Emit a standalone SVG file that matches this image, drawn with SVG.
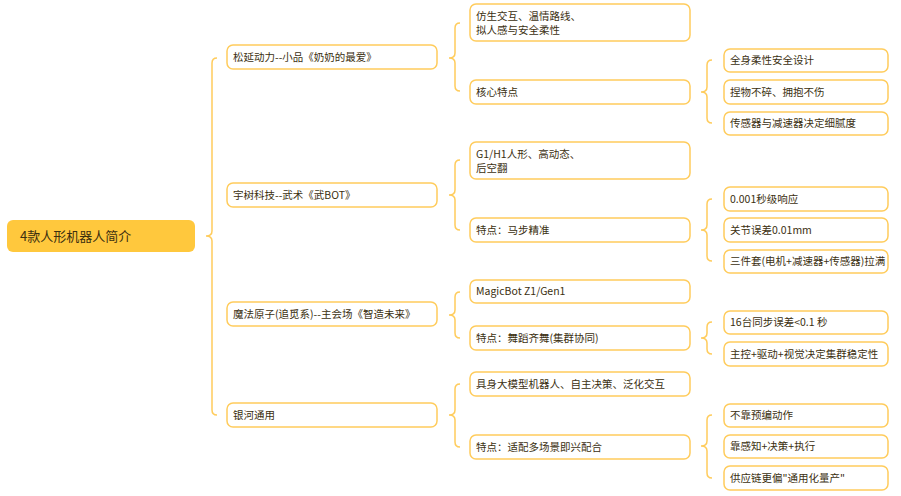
<svg xmlns="http://www.w3.org/2000/svg" width="901" height="496" viewBox="0 0 901 496">
<style>
.n{fill:#fff;stroke:#FFCC5C;stroke-width:1.5}
.t{font-family:"Noto Sans CJK SC","Noto Sans",sans-serif;font-size:10.5px;fill:#3b2f10}
.c{fill:none;stroke:#FFCC5C;stroke-width:1.5}
</style>
<rect width="901" height="496" fill="#fff"/>
<g id="connectors">
<path class="c" d="M217,58 Q212,58 212,63 L212,231 Q212,236 206,236 Q212,236 212,241 L212,410 Q212,415 217,415"/>
<path class="c" d="M460,23 Q455,23 455,28 L455,53 Q455,58 449,58 Q455,58 455,63 L455,86 Q455,91 460,91"/>
<path class="c" d="M460,160 Q455,160 455,165 L455,190 Q455,195 449,195 Q455,195 455,200 L455,225 Q455,230 460,230"/>
<path class="c" d="M460,292 Q455,292 455,297 L455,310 Q455,315 449,315 Q455,315 455,320 L455,333 Q455,338 460,338"/>
<path class="c" d="M460,384 Q455,384 455,389 L455,410 Q455,415 449,415 Q455,415 455,420 L455,442 Q455,447 460,447"/>
<path class="c" d="M712,60 Q707,60 707,65 L707,87 Q707,92 701,92 Q707,92 707,97 L707,118 Q707,123 712,123"/>
<path class="c" d="M712,199 Q707,199 707,204 L707,225 Q707,230 701,230 Q707,230 707,235 L707,256 Q707,261 712,261"/>
<path class="c" d="M712,322 Q707,322 707,327 L707,333 Q707,338 701,338 Q707,338 707,343 L707,349 Q707,354 712,354"/>
<path class="c" d="M712,415 Q707,415 707,420 L707,441 Q707,446 701,446 Q707,446 707,451 L707,473 Q707,478 712,478"/>
</g>
<g id="root"><rect x="7" y="220" width="188" height="32" rx="6" fill="#FFC83D"/><text x="20" y="241" class="t" style="font-size:13px">4款人形机器人简介</text></g>
<g id="a"><rect class="n" x="227" y="45" width="210" height="24" rx="6"/><text class="t" x="233" y="61">松延动力--小品《奶奶的最爱》</text></g>
<g id="b"><rect class="n" x="227" y="183" width="210" height="24" rx="6"/><text class="t" x="233" y="199">宇树科技--武术《武BOT》</text></g>
<g id="c"><rect class="n" x="227" y="302" width="210" height="24" rx="6"/><text class="t" x="233" y="318">魔法原子(追觅系)--主会场《智造未来》</text></g>
<g id="d"><rect class="n" x="227" y="403" width="210" height="24" rx="6"/><text class="t" x="233" y="419">银河通用</text></g>
<g id="a1"><rect class="n" x="470" y="4" width="220" height="37" rx="6"/><text class="t" x="476" y="20">仿生交互、温情路线、</text><text class="t" x="476" y="34">拟人感与安全柔性</text></g>
<g id="a2"><rect class="n" x="470" y="80" width="220" height="24" rx="6"/><text class="t" x="476" y="96">核心特点</text></g>
<g id="b1"><rect class="n" x="470" y="142" width="220" height="37" rx="6"/><text class="t" x="476" y="158">G1/H1人形、高动态、</text><text class="t" x="476" y="172">后空翻</text></g>
<g id="b2"><rect class="n" x="470" y="218" width="220" height="24" rx="6"/><text class="t" x="476" y="234">特点：马步精准</text></g>
<g id="c1"><rect class="n" x="470" y="280" width="220" height="23" rx="6"/><text class="t" x="476" y="295">MagicBot Z1/Gen1</text></g>
<g id="c2"><rect class="n" x="470" y="326" width="220" height="24" rx="6"/><text class="t" x="476" y="342">特点：舞蹈齐舞(集群协同)</text></g>
<g id="d1"><rect class="n" x="470" y="372" width="220" height="24" rx="6"/><text class="t" x="476" y="388">具身大模型机器人、自主决策、泛化交互</text></g>
<g id="d2"><rect class="n" x="470" y="435" width="220" height="24" rx="6"/><text class="t" x="476" y="451">特点：适配多场景即兴配合</text></g>
<g id="a2a"><rect class="n" x="724" y="49" width="164" height="23" rx="6"/><text class="t" x="730" y="64">全身柔性安全设计</text></g>
<g id="a2b"><rect class="n" x="724" y="80" width="164" height="24" rx="6"/><text class="t" x="730" y="96">捏物不碎、拥抱不伤</text></g>
<g id="a2c"><rect class="n" x="724" y="112" width="164" height="23" rx="6"/><text class="t" x="730" y="127">传感器与减速器决定细腻度</text></g>
<g id="b2a"><rect class="n" x="724" y="187" width="164" height="24" rx="6"/><text class="t" x="730" y="203">0.001秒级响应</text></g>
<g id="b2b"><rect class="n" x="724" y="218" width="164" height="24" rx="6"/><text class="t" x="730" y="234">关节误差0.01mm</text></g>
<g id="b2c"><rect class="n" x="724" y="250" width="164" height="23" rx="6"/><text class="t" x="730" y="265">三件套(电机+减速器+传感器)拉满</text></g>
<g id="c2a"><rect class="n" x="724" y="311" width="164" height="23" rx="6"/><text class="t" x="730" y="326">16台同步误差&lt;0.1 秒</text></g>
<g id="c2b"><rect class="n" x="724" y="342" width="164" height="24" rx="6"/><text class="t" x="730" y="358">主控+驱动+视觉决定集群稳定性</text></g>
<g id="d2a"><rect class="n" x="724" y="404" width="164" height="23" rx="6"/><text class="t" x="730" y="419">不靠预编动作</text></g>
<g id="d2b"><rect class="n" x="724" y="435" width="164" height="23" rx="6"/><text class="t" x="730" y="450">靠感知+决策+执行</text></g>
<g id="d2c"><rect class="n" x="724" y="466" width="164" height="24" rx="6"/><text class="t" x="730" y="482">供应链更偏"通用化量产"</text></g>
</svg>
